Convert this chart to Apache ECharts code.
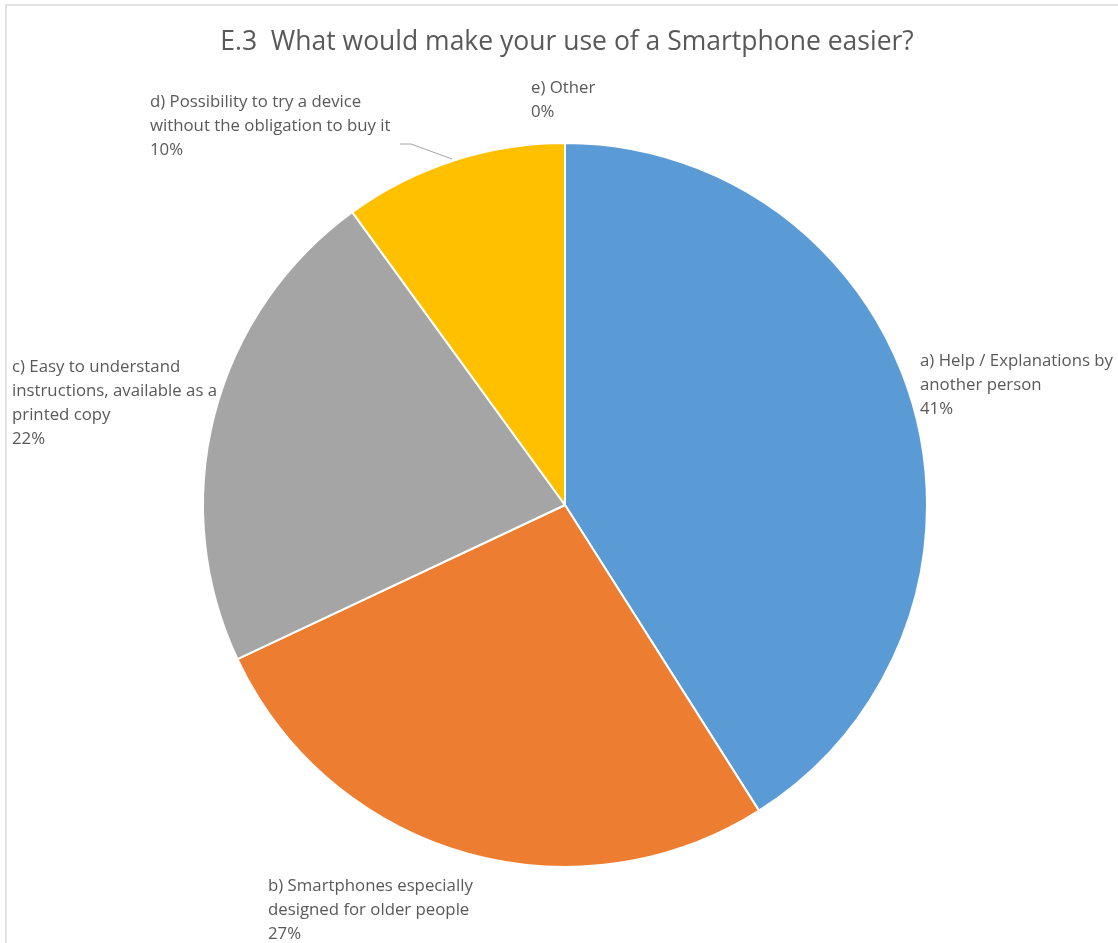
<!DOCTYPE html>
<html>
<head>
<meta charset="utf-8">
<title>E.3 Smartphone</title>
<script src="https://cdn.jsdelivr.net/npm/echarts@6/dist/echarts.min.js"></script>
<style>
  html, body { margin: 0; padding: 0; background: #ffffff; }
  #chart { width: 1118px; height: 943px; }
</style>
</head>
<body>
<div id="chart"></div>
<script>
// Answer categories (line breaks as shown in the chart labels)
const categories = [
  'a) Help / Explanations by\nanother person',
  'b) Smartphones especially\ndesigned for older people',
  'c) Easy to understand\ninstructions, available as a\nprinted copy',
  'd) Possibility to try a device\nwithout the obligation to buy it',
  'e) Other'
];
// Share of respondents, in percent
const shares = [41, 27, 22, 10, 0];
const sliceColors = ['#5B9BD5', '#ED7D31', '#A5A5A5', '#FFC000', '#4472C4'];

const titleText = 'E.3  What would make your use of a Smartphone easier?';

// Where each label block sits (top-left corner, in pixels)
const labelSpots = [
  { x: 920, y: 349 },
  { x: 268, y: 874 },
  { x: 12,  y: 355 },
  { x: 150, y: 90 },
  { x: 531, y: 76 }
];

const FONT = '"Open Sans", "Liberation Sans", Arial, sans-serif';

const chart = echarts.init(document.getElementById('chart'), null, { renderer: 'canvas' });

chart.setOption({
  backgroundColor: '#ffffff',
  animation: false,
  title: {
    text: titleText,
    left: 562,
    textAlign: 'center',
    top: 24,
    textStyle: { fontFamily: FONT, fontSize: 26.5, fontWeight: 'normal', color: '#595959' }
  },
  graphic: [{
    type: 'rect',
    shape: { x: 6, y: 5, width: 1300, height: 1100 },
    style: { fill: 'none', stroke: '#d9d9d9', lineWidth: 1.5 },
    silent: true
  }],
  series: [{
    type: 'pie',
    center: [565, 505],
    radius: [0, 362],
    startAngle: 90,
    clockwise: true,
    avoidLabelOverlap: false,
    itemStyle: { borderColor: '#ffffff', borderWidth: 2 },
    label: {
      show: true,
      position: 'outside',
      fontFamily: FONT,
      fontSize: 16.8,
      lineHeight: 24,
      color: '#595959',
      formatter: p => p.name + '\n' + Math.round(p.percent) + '%'
    },
    labelLine: { show: false },
    labelLayout: function (params) {
      const spot = labelSpots[params.dataIndex];
      const out = { x: spot.x, y: spot.y, align: 'left', verticalAlign: 'top' };
      if (params.dataIndex === 3) {
        out.labelLinePoints = [[452, 159], [411, 144], [400, 144]];
      }
      return out;
    },
    data: categories.map((name, i) => ({
      name: name,
      value: shares[i],
      itemStyle: { color: sliceColors[i] },
      labelLine: i === 3 ? { show: true, lineStyle: { color: '#a6a6a6', width: 1 } } : { show: false }
    }))
  }]
});
</script>
</body>
</html>
